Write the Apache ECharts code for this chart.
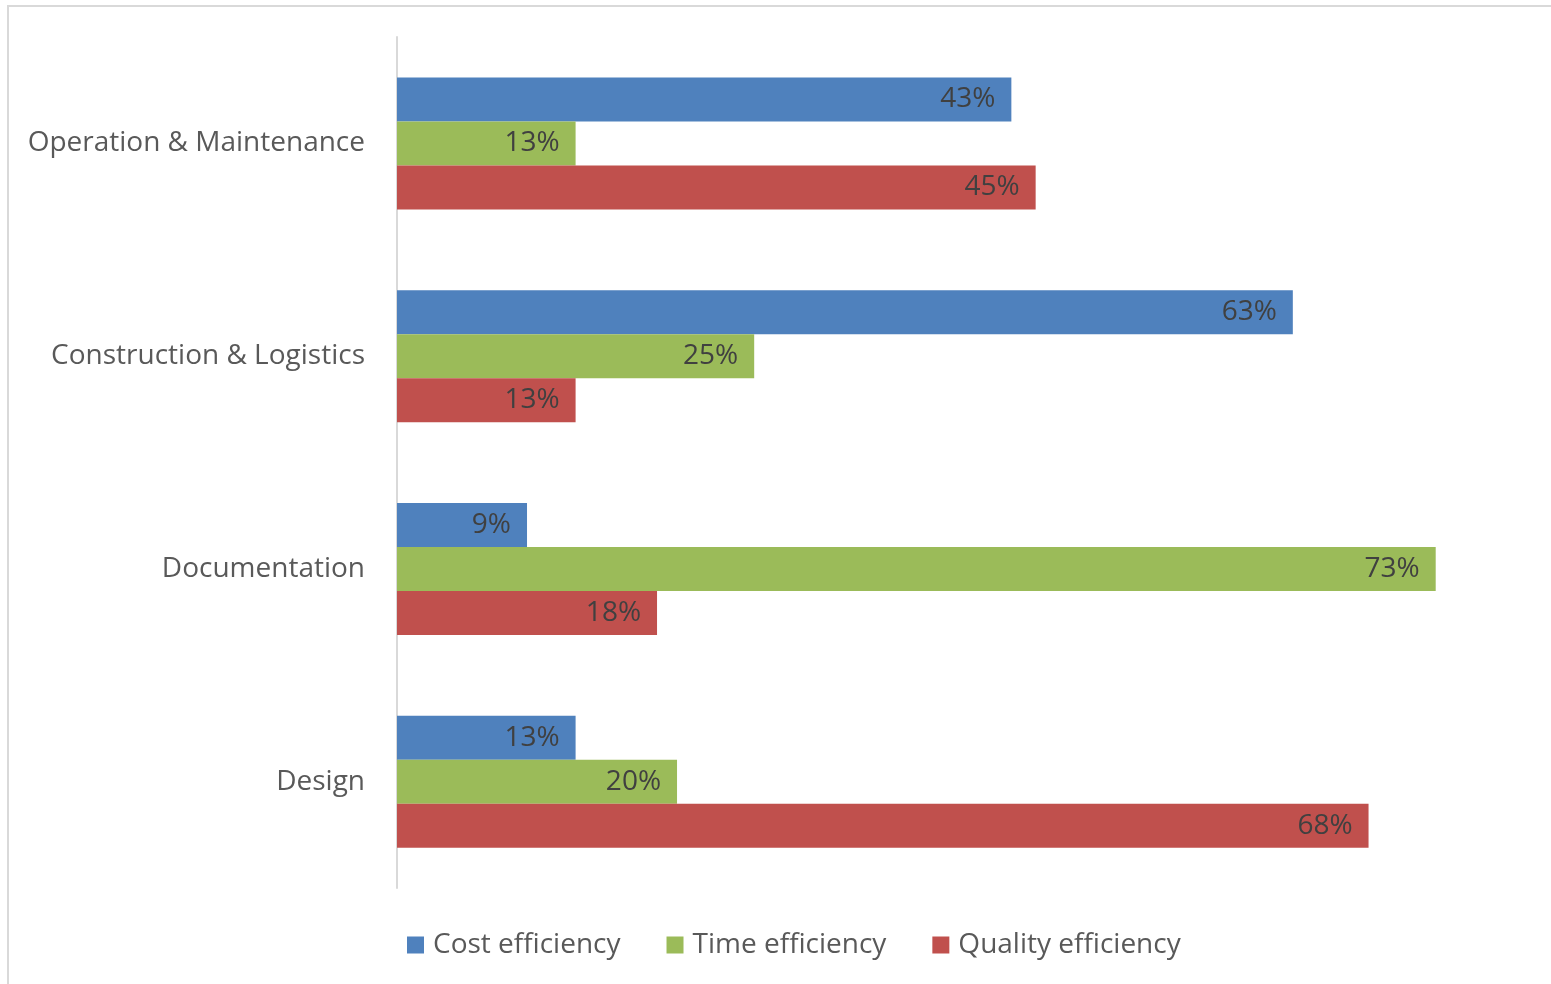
<!DOCTYPE html>
<html>
<head>
<meta charset="utf-8">
<script src="https://cdn.jsdelivr.net/npm/echarts@6/dist/echarts.min.js"></script>
<style>
html,body{margin:0;padding:0;background:#fff;}
#chart{width:1551px;height:984px;}
</style>
</head>
<body>
<div id="chart"></div>
<script>
// Categories listed bottom-to-top
var categories = ['Design', 'Documentation', 'Construction & Logistics', 'Operation & Maintenance'];
var seriesNames = ['Cost efficiency', 'Time efficiency', 'Quality efficiency'];
var costValues = [12.5, 9.1, 62.7, 43];
var timeValues = [19.6, 72.7, 25, 12.5];
var qualityValues = [68, 18.2, 12.5, 44.7];
var seriesColors = ['#4F81BD', '#9BBB59', '#C0504D'];

var chart = echarts.init(document.getElementById('chart'));
var fontFam = '"Open Sans", "Noto Sans", sans-serif';

function makeSeries(name, data, color) {
  return {
    name: name,
    type: 'bar',
    data: data,
    barWidth: 44,
    barGap: '0%',
    itemStyle: { color: color },
    label: {
      show: true,
      position: 'insideRight',
      distance: 16,
      color: '#404040',
      fontSize: 28,
      fontFamily: fontFam,
      formatter: function (p) { return Math.round(p.value) + '%'; }
    },
    emphasis: { disabled: true }
  };
}

chart.setOption({
  animation: false,
  backgroundColor: '#fff',
  graphic: [{
    type: 'rect',
    shape: { x: 8, y: 6, width: 1600, height: 1000 },
    style: { fill: 'none', stroke: '#d9d9d9', lineWidth: 2 },
    silent: true,
    z: -1
  }],
  grid: { left: 397, right: 11, top: 37, bottom: 96, containLabel: false },
  legend: {
    data: seriesNames,
    left: 407,
    top: 931,
    padding: 0,
    itemWidth: 17,
    itemHeight: 17,
    itemGap: 46,
    icon: 'rect',
    textStyle: { color: '#595959', fontSize: 28, fontFamily: fontFam, padding: [0, 0, 0, 4] }
  },
  xAxis: {
    type: 'value',
    min: 0,
    max: 80,
    show: false,
    splitLine: { show: false }
  },
  yAxis: {
    type: 'category',
    data: categories,
    axisLine: { show: true, lineStyle: { color: '#d9d9d9', width: 2 } },
    axisTick: { show: false },
    axisLabel: { color: '#595959', fontSize: 28, fontFamily: fontFam, margin: 32 }
  },
  series: [
    makeSeries(seriesNames[0], costValues, seriesColors[0]),
    makeSeries(seriesNames[1], timeValues, seriesColors[1]),
    makeSeries(seriesNames[2], qualityValues, seriesColors[2])
  ]
});
</script>
</body>
</html>
